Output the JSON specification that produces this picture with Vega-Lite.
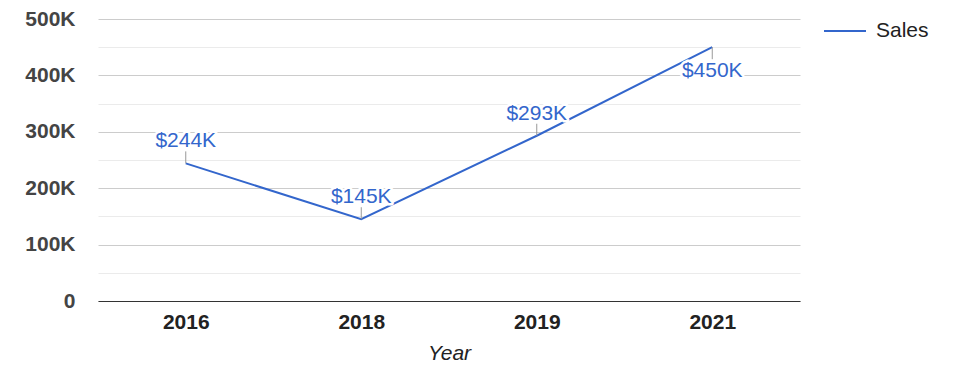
{
  "$schema": "https://vega.github.io/schema/vega-lite/v6.json",
  "width": 702,
  "height": 282,
  "autosize": {"type": "none"},
  "padding": {"left": 98, "top": 19, "right": 175, "bottom": 77},
  "config": {"font": "Liberation Sans", "view": {"stroke": null}},
  "data": {
    "values": [
      {"Year": "2016", "Sales": 244000, "Label": "$244K"},
      {"Year": "2018", "Sales": 145000, "Label": "$145K"},
      {"Year": "2019", "Sales": 293000, "Label": "$293K"},
      {"Year": "2021", "Sales": 450000, "Label": "$450K"}
    ]
  },
  "encoding": {
    "x": {
      "field": "Year",
      "type": "ordinal",
      "scale": {"type": "point", "padding": 0.5},
      "axis": {
        "labelAngle": 0,
        "labelFontSize": 21,
        "labelFontWeight": "bold",
        "labelColor": "#222222",
        "ticks": false,
        "domainColor": "#333333",
        "domainWidth": 1,
        "labelPadding": 10,
        "title": "Year",
        "titleFontStyle": "italic",
        "titleFontWeight": "normal",
        "titleFontSize": 21,
        "titleColor": "#222222",
        "titlePadding": 10
      }
    },
    "y": {
      "field": "Sales",
      "type": "quantitative",
      "scale": {"domain": [0, 500000], "nice": false},
      "axis": {
        "values": [0, 50000, 100000, 150000, 200000, 250000, 300000, 350000, 400000, 450000, 500000],
        "labelExpr": "datum.value === 0 ? '0' : (datum.value % 100000 === 0 ? (datum.value / 1000) + 'K' : '')",
        "gridColor": {"condition": {"test": "datum.value % 100000 === 0", "value": "#cccccc"}, "value": "#ebebeb"},
        "gridWidth": 1,
        "ticks": false,
        "domain": false,
        "labelPadding": 23,
        "labelFontSize": 21,
        "labelFontWeight": "bold",
        "labelColor": "#444444",
        "title": null
      }
    }
  },
  "layer": [
    {
      "mark": {"type": "line", "strokeWidth": 2},
      "encoding": {
        "color": {
          "datum": "Sales",
          "scale": {"range": ["#3366cc"]},
          "legend": {
            "orient": "none",
            "legendX": 725,
            "legendY": -10,
            "padding": 0,
            "symbolType": "stroke",
            "symbolSize": 1764,
            "symbolStrokeWidth": 2,
            "labelFontSize": 21,
            "labelColor": "#222222",
            "labelOffset": 9,
            "title": null
          }
        }
      }
    },
    {
      "transform": [{"filter": "datum.Year !== '2021'"}],
      "mark": {"type": "rule", "y2Offset": -12, "color": "#999999", "strokeWidth": 1},
      "encoding": {"y2": {"field": "Sales"}}
    },
    {
      "transform": [{"filter": "datum.Year === '2021'"}],
      "mark": {"type": "rule", "y2Offset": 12, "color": "#999999", "strokeWidth": 1},
      "encoding": {"y2": {"field": "Sales"}}
    },
    {
      "transform": [{"filter": "datum.Year !== '2021'"}],
      "mark": {"type": "text", "dy": -16, "baseline": "alphabetic", "fontSize": 21, "fill": "white", "stroke": "white", "strokeWidth": 5, "strokeJoin": "round"},
      "encoding": {"text": {"field": "Label"}}
    },
    {
      "transform": [{"filter": "datum.Year !== '2021'"}],
      "mark": {"type": "text", "dy": -16, "baseline": "alphabetic", "fontSize": 21, "fill": "#3366cc"},
      "encoding": {"text": {"field": "Label"}}
    },
    {
      "transform": [{"filter": "datum.Year === '2021'"}],
      "mark": {"type": "text", "dy": 30, "baseline": "alphabetic", "fontSize": 21, "fill": "white", "stroke": "white", "strokeWidth": 5, "strokeJoin": "round"},
      "encoding": {"text": {"field": "Label"}}
    },
    {
      "transform": [{"filter": "datum.Year === '2021'"}],
      "mark": {"type": "text", "dy": 30, "baseline": "alphabetic", "fontSize": 21, "fill": "#3366cc"},
      "encoding": {"text": {"field": "Label"}}
    }
  ]
}
